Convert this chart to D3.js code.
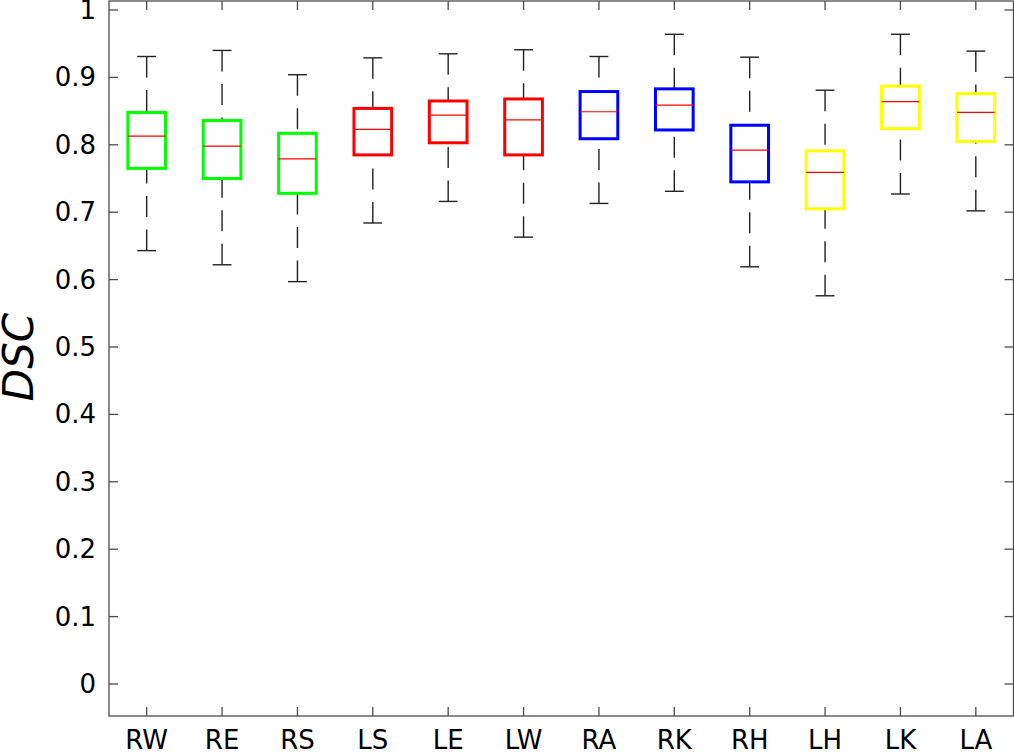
<!DOCTYPE html>
<html><head><meta charset="utf-8">
<script src="https://cdn.jsdelivr.net/npm/d3@7"></script>
<style>body{margin:0;background:#fff;} svg{display:block;}</style>
</head><body>
<svg id="chart" width="1014" height="752"></svg>
<script>
const categories = ["RW","RE","RS","LS","LE","LW","RA","RK","RH","LH","LK","LA"];
const boxColors = ["#00ff00","#00ff00","#00ff00","#ff0000","#ff0000","#ff0000","#0000ff","#0000ff","#0000ff","#ffff00","#ffff00","#ffff00"];
const whiskerLow = [0.643,0.622,0.597,0.684,0.716,0.663,0.713,0.731,0.619,0.576,0.727,0.702];
const q1         = [0.765,0.750,0.728,0.785,0.803,0.785,0.809,0.822,0.745,0.705,0.824,0.805];
const medians    = [0.813,0.798,0.779,0.823,0.844,0.837,0.849,0.859,0.792,0.759,0.864,0.848];
const q3         = [0.848,0.836,0.817,0.854,0.865,0.868,0.879,0.883,0.829,0.791,0.887,0.876];
const whiskerHigh= [0.931,0.940,0.904,0.929,0.935,0.941,0.931,0.964,0.930,0.881,0.964,0.939];
const yTicks = [0,0.1,0.2,0.3,0.4,0.5,0.6,0.7,0.8,0.9,1];
const yTickLabels = ["0","0.1","0.2","0.3","0.4","0.5","0.6","0.7","0.8","0.9","1"];

(function(){
const svg = d3.select("#chart");
const pLeft = 109, pRight = 1013.5, pTop = 1, pBottom = 716;
const x = d3.scaleLinear().domain([0.5, categories.length + 0.5]).range([pLeft, pRight]);
const y = d3.scaleLinear().domain([0, 1]).range([684, 10]);
const axisColor = "#4d4d4d";
const font = "DejaVu Sans, sans-serif";

svg.append("rect").attr("x", pLeft).attr("y", pTop).attr("width", pRight - pLeft).attr("height", pBottom - pTop)
  .attr("fill", "none").attr("stroke", axisColor).attr("stroke-width", 1.3);

const tickLen = 9;
yTicks.forEach((t, i) => {
  const yy = y(t);
  svg.append("line").attr("x1", pLeft).attr("x2", pLeft + tickLen).attr("y1", yy).attr("y2", yy).attr("stroke", axisColor).attr("stroke-width", 1.3);
  svg.append("line").attr("x1", pRight - tickLen).attr("x2", pRight).attr("y1", yy).attr("y2", yy).attr("stroke", axisColor).attr("stroke-width", 1.3);
  svg.append("text").attr("x", 96).attr("y", yy + 9).attr("text-anchor", "end")
    .attr("font-family", font).attr("font-size", 26).attr("fill", "#000").text(yTickLabels[i]);
});
categories.forEach((c, i) => {
  const xx = x(i + 1);
  svg.append("line").attr("x1", xx).attr("x2", xx).attr("y1", pBottom).attr("y2", pBottom - tickLen).attr("stroke", axisColor).attr("stroke-width", 1.3);
  svg.append("line").attr("x1", xx).attr("x2", xx).attr("y1", pTop).attr("y2", pTop + tickLen).attr("stroke", axisColor).attr("stroke-width", 1.3);
  svg.append("text").attr("x", xx).attr("y", 749).attr("text-anchor", "middle")
    .attr("font-family", font).attr("font-size", 26).attr("fill", "#000").text(c);
});

svg.append("text").attr("transform", "translate(33,357) rotate(-90)").attr("text-anchor", "middle")
  .attr("font-family", font).attr("font-size", 42).attr("font-style", "italic").attr("fill", "#000").text("DSC");

const boxW = 0.5, capW = 0.25;
categories.forEach((c, i) => {
  const cx = x(i + 1);
  const bw = x(1 + boxW) - x(1), cw = x(1 + capW) - x(1);
  const g = svg.append("g");
  g.append("line").attr("x1", cx).attr("x2", cx).attr("y1", y(whiskerHigh[i])).attr("y2", y(q3[i]))
    .attr("stroke", "#222").attr("stroke-width", 1.4).attr("stroke-dasharray", "21,12.5");
  g.append("line").attr("x1", cx).attr("x2", cx).attr("y1", y(whiskerLow[i])).attr("y2", y(q1[i]))
    .attr("stroke", "#222").attr("stroke-width", 1.4).attr("stroke-dasharray", "21,12.5");
  [whiskerHigh[i], whiskerLow[i]].forEach(v => {
    g.append("line").attr("x1", cx - cw / 2).attr("x2", cx + cw / 2).attr("y1", y(v)).attr("y2", y(v))
      .attr("stroke", "#222").attr("stroke-width", 1.4);
  });
  g.append("rect").attr("x", cx - bw / 2).attr("y", y(q3[i])).attr("width", bw).attr("height", y(q1[i]) - y(q3[i]))
    .attr("fill", "none").attr("stroke", boxColors[i]).attr("stroke-width", 3);
  g.append("line").attr("x1", cx - bw / 2).attr("x2", cx + bw / 2).attr("y1", y(medians[i])).attr("y2", y(medians[i]))
    .attr("stroke", "#ff0000").attr("stroke-width", 1.2);
});
})();
</script>
</body></html>
